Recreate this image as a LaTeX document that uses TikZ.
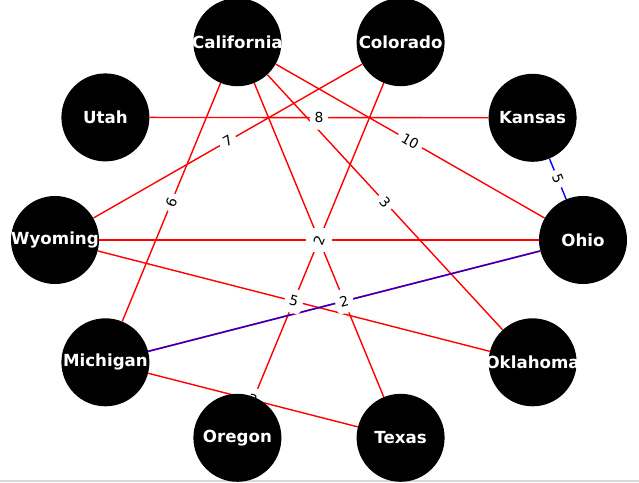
\documentclass[tikz,border=0pt]{standalone}
\usepackage{fontspec}
\setmainfont{DejaVu Sans}
\pgfdeclarelayer{bg}
\pgfdeclarelayer{edges}
\pgfdeclarelayer{cities}
\pgfsetlayers{bg,edges,main,cities}
\tikzset{
  city/.style={circle, fill=black, draw=none, minimum size=66pt, inner sep=0pt},
  citytext/.style={text=white, font=\bfseries\fontsize{12.5}{14}\selectfont, inner sep=0pt},
  redge/.style={draw=red, line width=1.05pt},
  bedge/.style={draw=blue, line width=1.05pt},
  wlbl/.style={sloped, pos=0.5, fill=white, rounded corners=3pt, inner xsep=3.5pt, inner ysep=0pt,
    minimum height=18pt, text=black, font=\fontsize{10.4}{12}\selectfont},
}
\begin{document}
\begin{tikzpicture}[x=0.75pt, y=-0.75pt]
\useasboundingbox (0,0) rectangle (639,482);
\begin{pgfonlayer}{bg}
\fill[white] (0,0) rectangle (639,482);
\fill[black!15] (0,480) rectangle (639,482);
\end{pgfonlayer}
\begin{pgfonlayer}{cities}
\node[city, label={[citytext]center:Ohio}] (oh) at (583,240) {};
\node[city, label={[citytext]center:Kansas}] (ks) at (532.6,117.8) {};
\node[city, label={[citytext]center:Colorado}] (co) at (400.6,42.2) {};
\node[city, label={[citytext]center:California}] (ca) at (237.4,42.2) {};
\node[city, label={[citytext]center:Utah}] (ut) at (105.4,117.4) {};
\node[city, label={[citytext]center:Wyoming}] (wy) at (55,240) {};
\node[city, label={[citytext]center:Michigan}] (mi) at (105.4,362.3) {};
\node[city, label={[citytext]center:Oregon}] (or) at (237.4,437.8) {};
\node[city, label={[citytext]center:Texas}] (tx) at (400.6,437.8) {};
\node[city, label={[citytext]center:Oklahoma}] (ok) at (532.6,362.3) {};
\end{pgfonlayer}
\begin{pgfonlayer}{edges}
\draw[redge] (ca) -- (oh);
\draw[redge] (ut) -- (ks);
\draw[redge] (co) -- (wy);
\draw[redge] (ca) -- (mi);
\draw[redge] (ca) -- (ok);
\draw[redge] (ca) -- (tx);
\draw[redge] (co) -- (or);
\draw[redge] (wy) -- (oh);
\draw[redge] (wy) -- (ok);
\draw[redge] (mi) -- (tx);
\draw[draw=red, line width=1.3pt] (mi) -- (oh);
\draw[bedge, line width=0.9pt] (mi) -- (oh);
\draw[bedge] (ks) -- (oh);
\end{pgfonlayer}
\path (ut) -- node[wlbl, sloped=false] {8} (ks);
\path (ca) -- node[wlbl] {10} (oh);
\path (co) -- node[wlbl] {7} (wy);
\path (ca) -- node[wlbl] {6} (mi);
\path (ca) -- node[wlbl] {3} (ok);
\path (wy) -- node[wlbl] {2} (oh);
\path (ca) -- node[wlbl] {2} (tx);
\path (co) -- node[wlbl] {2} (or);
\path (wy) -- node[wlbl] {5} (ok);
\path (mi) -- node[wlbl] {3} (tx);
\path (mi) -- node[wlbl] {2} (oh);
\path (ks) -- node[wlbl] {5} (oh);
\end{tikzpicture}
\end{document}
